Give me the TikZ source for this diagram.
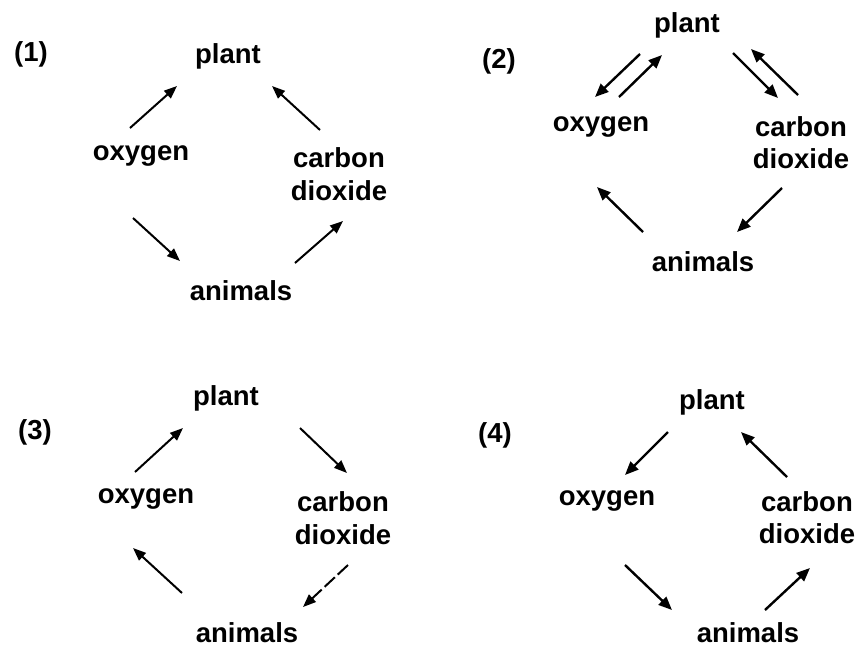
\documentclass[tikz,border=0pt]{standalone}
\usepackage{fontspec}
\setmainfont{Liberation Sans}
\usetikzlibrary{arrows.meta}
\begin{document}
\begin{tikzpicture}[x=1pt,y=-1pt,
  lbl/.style={font=\fontsize{27.5}{33}\selectfont\bfseries, inner sep=0pt, align=center},
  lblb/.style={font=\fontsize{27.5}{32}\selectfont\bfseries, inner sep=0pt, align=center},
  arr/.style={line width=2pt, -{Triangle[length=13pt,width=10pt]}},
  arrb/.style={line width=2.4pt, -{Triangle[length=13.5pt,width=11pt]}},
  brk/.style={dash pattern=on 14pt off 4pt}]
\useasboundingbox (0,0) rectangle (860,649);
% ---------- (1) ----------
\node[lbl] (n1) at (31,54) {(1)};
\node[lbl] (p1) at (228,56) {plant};
\node[lbl] (o1) at (141,156) {oxygen};
\node[lbl] (c1) at (339,174) {carbon\\dioxide};
\node[lbl] (a1) at (241,291) {animals};
\coordinate (op1s) at (130,128); \coordinate (op1e) at (177,86);
\coordinate (cp1s) at (320,130); \coordinate (cp1e) at (272,86);
\coordinate (oa1s) at (133,218); \coordinate (oa1e) at (180,261);
\coordinate (ac1s) at (295,263); \coordinate (ac1e) at (343,221);
\draw[arr] (op1s) -- (op1e);
\draw[arr] (cp1s) -- (cp1e);
\draw[arr] (oa1s) -- (oa1e);
\draw[arr] (ac1s) -- (ac1e);
% ---------- (2) ----------
\node[lbl] (n2) at (499,61) {(2)};
\node[lblb] (p2) at (687,25) {plant};
\node[lblb] (o2) at (601,127) {oxygen};
\node[lblb] (c2) at (801,143) {carbon\\dioxide};
\node[lblb] (a2) at (703,262) {animals};
\coordinate (po2s) at (640,54); \coordinate (po2e) at (595,97);
\coordinate (op2s) at (619,97); \coordinate (op2e) at (662,55);
\coordinate (pc2s) at (733,53); \coordinate (pc2e) at (778,98);
\coordinate (cp2s) at (798,95); \coordinate (cp2e) at (751,49);
\coordinate (ca2s) at (782,188); \coordinate (ca2e) at (737,232);
\coordinate (ao2s) at (643,232); \coordinate (ao2e) at (597,187);
\draw[arrb] (po2s) -- (po2e);
\draw[arrb] (op2s) -- (op2e);
\draw[arrb] (pc2s) -- (pc2e);
\draw[arrb] (cp2s) -- (cp2e);
\draw[arrb] (ca2s) -- (ca2e);
\draw[arrb] (ao2s) -- (ao2e);
% ---------- (3) ----------
\node[lbl] (n3) at (35,432) {(3)};
\node[lbl] (p3) at (226,398) {plant};
\node[lbl] (o3) at (146,499) {oxygen};
\node[lbl] (c3) at (343,518) {carbon\\dioxide};
\node[lbl] (a3) at (247,633) {animals};
\coordinate (op3s) at (135,472); \coordinate (op3e) at (183,428);
\coordinate (pc3s) at (300,428); \coordinate (pc3e) at (347,473);
\coordinate (ca3s) at (348,565); \coordinate (ca3e) at (303,607);
\coordinate (ao3s) at (182,593); \coordinate (ao3e) at (133,548);
\draw[arr] (op3s) -- (op3e);
\draw[arr] (pc3s) -- (pc3e);
\draw[arr,brk] (ca3s) -- (ca3e);
\draw[arr] (ao3s) -- (ao3e);
% ---------- (4) ----------
\node[lbl] (n4) at (495,435) {(4)};
\node[lblb] (p4) at (712,402) {plant};
\node[lblb] (o4) at (607,501) {oxygen};
\node[lblb] (c4) at (807,518) {carbon\\dioxide};
\node[lblb] (a4) at (748,633) {animals};
\coordinate (po4s) at (668,432); \coordinate (po4e) at (625,475);
\coordinate (cp4s) at (787,477); \coordinate (cp4e) at (741,432);
\coordinate (oa4s) at (625,565); \coordinate (oa4e) at (672,610);
\coordinate (ac4s) at (765,610); \coordinate (ac4e) at (810,568);
\draw[arrb] (po4s) -- (po4e);
\draw[arrb] (cp4s) -- (cp4e);
\draw[arrb] (oa4s) -- (oa4e);
\draw[arrb] (ac4s) -- (ac4e);
\end{tikzpicture}
\end{document}
